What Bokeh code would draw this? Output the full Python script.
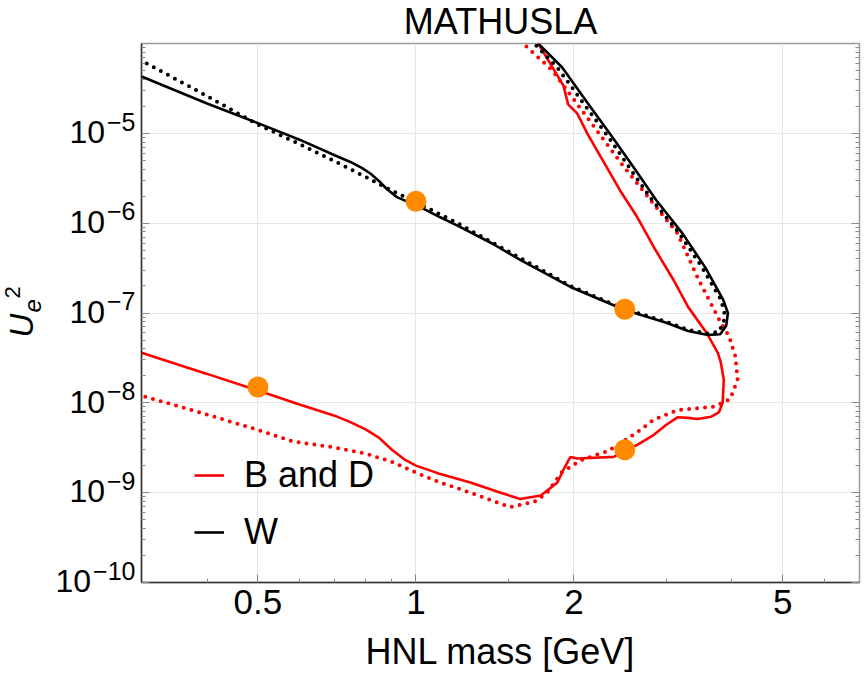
import math
from bokeh.plotting import figure
from bokeh.layouts import row
from bokeh.models import (FixedTicker, Legend, LegendItem, LogAxis, Range1d,
                          CustomJSTickFormatter)
from bokeh.core.properties import value
from bokeh.embed import file_html
from bokeh.resources import INLINE

FONT = "Liberation Sans"

# ---------------- data ----------------
# W production, solid
w_solid_x = [0.30, 0.40, 0.50, 0.60, 0.70, 0.75, 0.79, 0.82, 0.85, 0.88, 0.92, 0.96, 1.00,
             1.11, 1.20, 1.40, 1.58, 1.97, 2.50, 3.00, 3.30, 3.60, 3.80, 3.90, 3.93, 3.85,
             3.56, 3.22, 2.87, 2.62, 2.37, 2.12, 1.90, 1.71]
w_solid_y = [4.3e-5, 2.15e-5, 1.3e-5, 8.5e-6, 5.7e-6, 4.8e-6, 4.1e-6, 3.55e-6, 2.95e-6,
             2.4e-6, 1.95e-6, 1.75e-6, 1.6e-6, 1.17e-6, 9.4e-7, 5.9e-7, 3.9e-7, 1.95e-7,
             1.08e-7, 7.8e-8, 6.3e-8, 5.7e-8, 5.8e-8, 7.2e-8, 1.0e-7, 1.4e-7, 3.2e-7, 7.7e-7,
             1.8e-6, 3.9e-6, 9.0e-6, 2.2e-5, 5.4e-5, 1.0e-4]
# W production, dotted
w_dot_x = [0.307, 0.40, 0.50, 0.60, 0.70, 0.80, 0.88, 1.00, 1.20, 1.58, 1.97, 2.50, 3.00, 3.30,
           3.60, 3.78, 3.86, 3.87, 3.80, 3.50, 3.16, 2.82, 2.57, 2.33, 2.08, 1.86, 1.68]
w_dot_y = [6.0e-5, 2.6e-5, 1.25e-5, 7.6e-6, 4.9e-6, 3.3e-6, 2.45e-6, 1.72e-6, 1.0e-6, 4.1e-7,
           2.0e-7, 1.1e-7, 8.0e-8, 6.5e-8, 5.9e-8, 6.2e-8, 8.0e-8, 1.05e-7, 1.45e-7, 3.3e-7,
           8.0e-7, 1.8e-6, 3.9e-6, 9.0e-6, 2.2e-5, 5.4e-5, 1.0e-4]
# B and D mesons, solid
bd_solid_x = [0.30, 0.40, 0.50, 0.60, 0.70, 0.75, 0.80, 0.85, 0.90, 0.95, 1.00, 1.10, 1.27,
              1.45, 1.58, 1.73, 1.86, 1.91, 1.97, 2.03, 2.38, 2.50, 2.64, 2.84, 3.00, 3.15,
              3.30, 3.44, 3.65, 3.78, 3.84, 3.86, 3.81, 3.76, 3.58, 3.30, 3.10, 2.84, 2.64,
              2.45, 2.12, 2.03, 1.95, 1.91, 1.71]
bd_solid_y = [3.6e-8, 2.1e-8, 1.37e-8, 9.6e-9, 7.2e-9, 6.1e-9, 5.1e-9, 4.1e-9, 3.0e-9, 2.35e-9,
              2.0e-9, 1.65e-9, 1.3e-9, 1.0e-9, 8.5e-10, 9.3e-10, 1.3e-9, 1.8e-9, 2.5e-9,
              2.4e-9, 2.5e-9, 2.9e-9, 3.4e-9, 4.4e-9, 5.7e-9, 6.9e-9, 6.8e-9, 6.6e-9, 7.0e-9,
              7.9e-9, 1.0e-8, 1.8e-8, 2.8e-8, 3.6e-8, 6.0e-8, 1.17e-7, 2.3e-7, 5.4e-7, 1.17e-6,
              2.3e-6, 1.0e-5, 1.66e-5, 2.1e-5, 3.4e-5, 1.0e-4]
# B and D mesons, dotted
bd_dot_x = [0.305, 0.40, 0.50, 0.585, 0.696, 0.807, 0.90, 1.00, 1.11, 1.27, 1.51, 1.68, 1.78,
            1.89, 2.06, 2.32, 2.64, 2.84, 3.15, 3.70, 3.97, 4.10, 4.06, 3.95, 3.80, 3.45, 3.15,
            2.80, 2.45, 2.12, 1.82, 1.60]
bd_dot_y = [1.17e-8, 7.4e-9, 5.0e-9, 3.7e-9, 3.2e-9, 2.7e-9, 2.2e-9, 1.67e-9, 1.3e-9, 1.0e-9,
            6.9e-10, 7.9e-10, 1.0e-9, 1.66e-9, 2.3e-9, 2.9e-9, 4.7e-9, 6.5e-9, 8.3e-9, 9.1e-9,
            1.1e-8, 1.8e-8, 3.3e-8, 5.5e-8, 8.0e-8, 2.4e-7, 7.7e-7, 1.8e-6, 4.8e-6, 1.5e-5,
            5.0e-5, 1.0e-4]
# benchmark points
bench_x = [1.0, 2.5, 0.5, 2.5]
bench_y = [1.75e-6, 1.1e-7, 1.5e-8, 3.0e-9]

x_major = [0.5, 1, 2, 5]
x_minor = [0.4, 0.6, 0.7, 0.8, 0.9, 1.5, 3, 4, 6]
y_exponents = [-10, -9, -8, -7, -6, -5]
y_major = [10.0 ** e for e in y_exponents]
y_minor = [k * 10.0 ** e for e in range(-10, -4) for k in range(2, 10)]

X0, X1 = 0.3, 7.0
Y0, Y1 = 1e-10, 1e-4

# ---------------- layout geometry (pixels) ----------------
W, H = 865, 678
LEFT_W = 138                      # strip holding the y tick labels and y title
F_LEFT, F_RIGHT, F_TOP, F_BOTTOM = 141, 859, 43, 582
PXD = (F_BOTTOM - F_TOP) / (math.log10(Y1) - math.log10(Y0))   # pixels per decade
BASE_SHIFT = 0.35                 # text anchor sits ~0.35 em below the drawn glyph centre

TICK_C = "#8a8a8a"


def inner_ticks(ax):
    ax.major_tick_in = 8
    ax.major_tick_out = 0
    ax.minor_tick_in = 4
    ax.minor_tick_out = 0
    ax.major_tick_line_color = TICK_C
    ax.minor_tick_line_color = TICK_C


# ---------------- main plot ----------------
p = figure(width=W - LEFT_W, height=H, x_axis_type="log", y_axis_type="log",
           x_range=Range1d(X0, X1), y_range=Range1d(Y0, Y1),
           output_backend="svg", toolbar_location=None,
           min_border_left=F_LEFT - LEFT_W, min_border_right=W - F_RIGHT,
           min_border_top=F_TOP, min_border_bottom=H - F_BOTTOM,
           title="MATHUSLA")
p.title.align = "center"
p.title.vertical_align = "top"
p.title.text_font = FONT
p.title.text_font_size = "36px"
p.title.text_font_style = "normal"
p.title.text_color = "black"
p.title.standoff = 0
p.outline_line_color = "#9a9a9a"
p.outline_line_width = 1.5
p.background_fill_color = "white"
p.border_fill_color = "white"
p.frame_align = False

p.xgrid.ticker = FixedTicker(ticks=x_major)
p.ygrid.ticker = FixedTicker(ticks=y_major)
p.grid.grid_line_color = "#e6e6e6"
p.grid.grid_line_width = 1

xax = p.xaxis[0]
yax = p.yaxis[0]
xax.ticker = FixedTicker(ticks=x_major, minor_ticks=x_minor)
yax.ticker = FixedTicker(ticks=y_major, minor_ticks=y_minor)
xax.formatter = CustomJSTickFormatter(code="return String(tick)")
yax.formatter = CustomJSTickFormatter(code="return ''")
for ax in (xax, yax):
    inner_ticks(ax)
    ax.axis_line_color = "#333333"
    ax.axis_line_width = 1.5
    ax.major_label_text_font = FONT
    ax.major_label_text_color = "black"
xax.major_label_text_font_size = "35px"
xax.major_label_standoff = 7
xax.axis_label = "HNL mass [GeV]"
xax.axis_label_text_font = FONT
xax.axis_label_text_font_size = "36px"
xax.axis_label_text_font_style = "normal"
xax.axis_label_text_color = "black"
xax.axis_label_standoff = 14
yax.major_label_text_font_size = "1px"
yax.major_label_standoff = 0

# tick marks on the right edge of the frame
rax = LogAxis(ticker=FixedTicker(ticks=y_major, minor_ticks=y_minor),
              formatter=CustomJSTickFormatter(code="return ''"),
              major_label_text_font_size="1px", major_label_standoff=0,
              axis_line_color=None)
inner_ticks(rax)
p.add_layout(rax, "right")

# curves
r_bd_dot = p.line(bd_dot_x, bd_dot_y, line_color="#ff0000", line_width=4,
                  line_dash="0 8", line_cap="round")
r_bd = p.line(bd_solid_x, bd_solid_y, line_color="#ff0000", line_width=2.6)
r_w_dot = p.line(w_dot_x, w_dot_y, line_color="black", line_width=4,
                 line_dash="0 8", line_cap="round")
r_w = p.line(w_solid_x, w_solid_y, line_color="black", line_width=2.6)
p.scatter(bench_x, bench_y, size=21, fill_color="#ff8a00", line_color=None)

legend = Legend(items=[LegendItem(label="B and D", renderers=[r_bd]),
                       LegendItem(label="W", renderers=[r_w])],
                location=(53, 29))
legend.background_fill_alpha = 0
legend.border_line_color = None
legend.label_text_font = FONT
legend.label_text_font_size = "36px"
legend.label_text_color = "black"
legend.glyph_width = 30
legend.glyph_height = 38
legend.label_height = 38
legend.label_standoff = 20
legend.spacing = 15
legend.padding = 10
legend.margin = 0
p.add_layout(legend)

# ---------------- left strip: y tick labels and y-axis title ----------------
# same log scale as the main plot, extended over the whole height of the strip
yl_lo = 10 ** (math.log10(Y0) - (H - F_BOTTOM) / PXD)
yl_hi = 10 ** (math.log10(Y1) + F_TOP / PXD)
lf = figure(width=LEFT_W, height=H, x_range=Range1d(0, LEFT_W), y_range=Range1d(yl_lo, yl_hi),
            y_axis_type="log", output_backend="svg", toolbar_location=None,
            x_axis_location=None, y_axis_location=None, title_location=None,
            min_border=0, min_border_left=0, min_border_right=0, min_border_top=0,
            min_border_bottom=0)
lf.outline_line_color = None
lf.background_fill_color = "white"
lf.border_fill_color = "white"
lf.xgrid.visible = False
lf.ygrid.visible = False
lf.frame_align = False


def canvas_y(py):
    """data value of the strip's log scale at canvas row py"""
    return 10 ** (math.log10(Y1) - (py - F_TOP) / PXD)


EXP_PX, TEN_PX = 25, 32
LBL_RIGHT = F_LEFT - 6
exp_txt = ["\u2212" + str(-e) for e in y_exponents]
exp_w = [EXP_PX * (0.584 + 0.556 * len(str(-e))) for e in y_exponents]
lf.text(x=[LBL_RIGHT] * len(y_exponents),
        y=[10 ** (e + (3 + BASE_SHIFT * EXP_PX) / PXD) for e in y_exponents],
        text=exp_txt, text_align="right", text_baseline="alphabetic",
        text_font=value(FONT), text_font_size=f"{EXP_PX}px", text_color="black")
lf.text(x=[LBL_RIGHT - w - 2 for w in exp_w],
        y=[10 ** (e + (-10 + BASE_SHIFT * TEN_PX) / PXD) for e in y_exponents],
        text=["10"] * len(y_exponents), text_align="right", text_baseline="alphabetic",
        text_font=value(FONT), text_font_size=f"{TEN_PX}px", text_color="black")

ang = math.pi / 2
lf.text(x=[33 - BASE_SHIFT * 33], y=[canvas_y(337)], text=["U"], angle=ang, text_align="left",
        text_baseline="alphabetic", text_font=value(FONT), text_font_size="33px",
        text_font_style="italic", text_color="black")
lf.text(x=[40 - BASE_SHIFT * 24], y=[canvas_y(312)], text=["e"], angle=ang, text_align="left",
        text_baseline="alphabetic", text_font=value(FONT), text_font_size="24px",
        text_font_style="italic", text_color="black")
lf.text(x=[20 - BASE_SHIFT * 22], y=[canvas_y(298)], text=["2"], angle=ang, text_align="left",
        text_baseline="alphabetic", text_font=value(FONT), text_font_size="22px",
        text_color="black")

layout = row(lf, p, spacing=0)
open("out.html", "w").write(file_html(layout, INLINE))
